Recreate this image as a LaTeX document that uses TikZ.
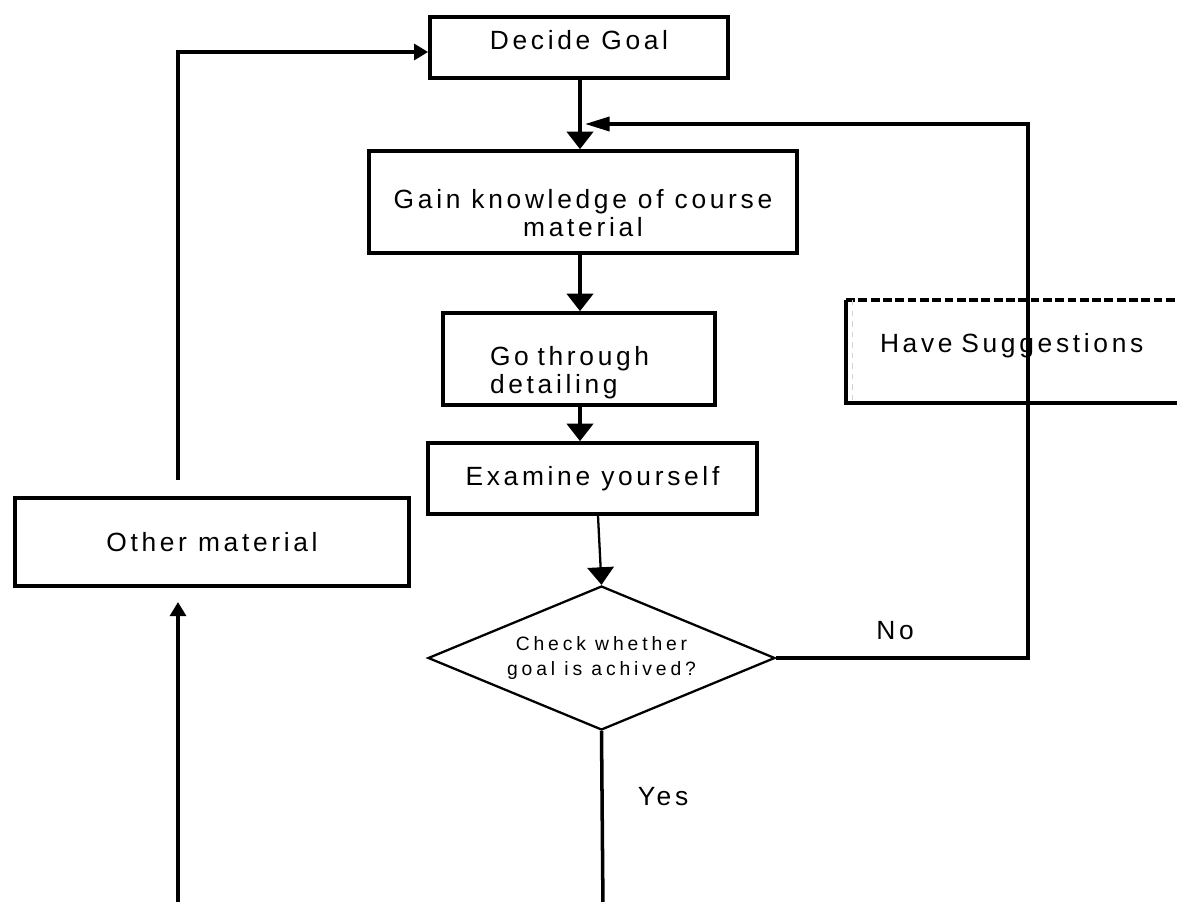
\documentclass[tikz,border=0pt]{standalone}
\usepackage{fontspec}
\usepackage{tikz}
\usetikzlibrary{shapes.geometric, positioning, arrows.meta, calc}
\newfontfamily\boxfont[LetterSpace=14]{Liberation Sans}
\newfontfamily\checkfont[LetterSpace=20]{Liberation Sans}
\def\px{0.02cm}
\tikzstyle{arrow} = [black, -{Triangle[length=10pt, width=15pt]}, line width=2pt]
\tikzstyle{backarrow} = [black, -{Triangle[length=14pt, width=8pt]}, line width=2pt]
\tikzstyle{sidearrow} = [black, -{Triangle[length=8pt, width=9pt]}, line width=2pt]
\tikzstyle{connector} = [black, -, line width=2pt]
\tikzstyle{answer} = [inner sep=0, font=\boxfont\fontsize{15pt}{16pt}\selectfont]
\newcommand{\tikzboxnode}[2]{\node[
  draw, rectangle, line width=2.1pt, minimum width=#1*\px, minimum height=#2*\px, inner sep=0,
  align=center, font=\boxfont\fontsize{15pt}{16pt}\selectfont
]}
\newcommand{\tikzchecknode}{\node[
  draw, diamond, line width=1.3pt, minimum width=347*\px, minimum height=144*\px, inner sep=0,
  aspect=2.4, align=center, font=\checkfont\fontsize{11pt}{14pt}\selectfont
]}

\begin{document}
\begin{tikzpicture}[x=\px, y=-\px]
    \useasboundingbox (0,0) rectangle (1177,902);
    \clip (0,0) rectangle (1177,902);

    % nodes
    \tikzboxnode{298}{61}   at (579,47.5)   (goal)   [text depth=8.6pt] {Decide Goal};
    \tikzboxnode{428}{102}  at (583,202)    (gain)   [text height=39pt] {Gain knowledge of course\\material};
    \tikzboxnode{272}{92}   at (579,359)    (detail) [align=left, text width=178*\px, text height=26pt] {Go through\\detailing};
    \tikzboxnode{329}{71}   at (592.5,478.5) (exam)  {Examine yourself};
    \tikzboxnode{394}{88}   at (212,542)    (other)  {Other material};
    \tikzboxnode{372}{99}   at (1034,351.5) (sugg)   [draw=none, align=left, text width=308*\px, text depth=10pt] {Have Suggestions};
    \tikzchecknode          at (601.5,658)  (check)  {Check whether\\goal is achived?};
    \node[answer] at (895,631) (no)  {No};
    \node[answer] at (663,797) (yes) {Yes};

    % suggestion box, cut by the page edge
    \draw[line width=2.1pt] (sugg.north west) -- (sugg.south west) -- (sugg.south east);
    \draw[line width=2.1pt, dash pattern=on 5pt off 2pt] (sugg.north west) -- (sugg.north east);
    \draw[gray!35, dashed, line width=0.6pt] ([xshift=0.12cm]sugg.north west) -- ([xshift=0.12cm]sugg.south west);

    % free ends
    \coordinate (turn)     at (1028,124);
    \coordinate (back)     at (585,124);
    \coordinate (yesend)   at (603,910);
    \coordinate (upstart)  at (178,910);
    \coordinate (upend)    at (178,602);
    \coordinate (loopstart) at (178,480);

    % arrows
    \draw[arrow]      (goal.south -| 580,0)   -- (gain.north -| 580,0);
    \draw[arrow]      (gain.south -| 580,0)   -- (detail.north -| 580,0);
    \draw[arrow]      (detail.south -| 580,0) -- (exam.north -| 580,0);
    \draw[arrow, line width=1.3pt] (exam.south -| 598,0) -- (check.north);
    \draw[backarrow]  (check.east) -| (turn) -- (back);
    \draw[connector]  (check.south) -- (yesend);
    \draw[sidearrow]  (upstart) -- (upend);
    \draw[sidearrow]  (loopstart) |- (goal.west |- 0,52);
\end{tikzpicture}
\end{document}
